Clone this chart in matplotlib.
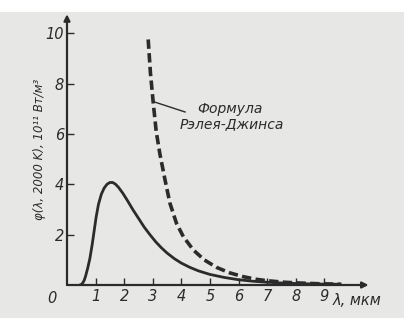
import matplotlib
matplotlib.use("Agg")
import matplotlib.pyplot as plt

# Planck curve, λ in μm, φ in 10^11 W/m^3
planck_lam = [0.45, 0.5, 0.55, 0.6, 0.65, 0.72, 0.8, 0.88, 0.95, 1.02, 1.1, 1.2, 1.3, 1.4, 1.5, 1.6,
              1.7, 1.8, 1.95, 2.1, 2.3, 2.5, 2.7, 2.9, 3.1, 3.3, 3.5, 3.75, 4.0, 4.3, 4.6, 5.0,
              5.5, 6.0, 6.5, 7.0, 7.5, 8.0, 8.5, 9.0, 9.5]
planck_val = [0.0, 0.02, 0.08, 0.18, 0.35, 0.65, 1.05, 1.6, 2.15, 2.7, 3.2, 3.6, 3.85, 4.0, 4.07, 4.07,
              4.0, 3.88, 3.65, 3.38, 3.0, 2.65, 2.3, 2.0, 1.72, 1.48, 1.27, 1.05, 0.87, 0.7, 0.56, 0.42,
              0.3, 0.21, 0.15, 0.11, 0.08, 0.06, 0.045, 0.035, 0.03]

# Rayleigh-Jeans curve
rj_lam = [2.84, 2.92, 3.02, 3.12, 3.25, 3.43, 3.6, 3.83, 4.07, 4.42, 4.8, 5.23, 5.7, 6.17, 6.6, 7.0, 7.6, 8.1, 8.8, 9.6]
rj_val = [9.75, 8.4, 7.2, 6.1, 5.2, 4.17, 3.25, 2.45, 1.92, 1.39, 1.0, 0.7, 0.48, 0.33, 0.23, 0.17, 0.11, 0.08, 0.05, 0.03]

x_ticks = [1, 2, 3, 4, 5, 6, 7, 8, 9]
y_ticks = [2, 4, 6, 8, 10]

ink = "#2b2b2b"
paper = "#e7e7e5"

fig = plt.figure(figsize=(4.07, 3.22), dpi=100, facecolor="white")
bg = plt.Rectangle((0, 0.012), 0.992, 0.95, transform=fig.transFigure,
                   facecolor=paper, edgecolor="none", zorder=-10)
fig.add_artist(bg)
ax = fig.add_axes([67/407, 37/322, 303/407, 272/322])
ax.set_zorder(1)
ax.set_facecolor("none")
ax.set_xlim(0, 10.6)
ax.set_ylim(0, 10.8)
for s in ax.spines.values():
    s.set_visible(False)

# axes with arrows
ax.annotate("", xy=(10.55, 0), xytext=(0, 0),
            arrowprops=dict(arrowstyle="-|>", color=ink, lw=1.6, mutation_scale=9, shrinkA=0, shrinkB=0))
ax.annotate("", xy=(0, 10.75), xytext=(0, 0),
            arrowprops=dict(arrowstyle="-|>", color=ink, lw=1.6, mutation_scale=9, shrinkA=0, shrinkB=0))

ax.set_xticks(x_ticks)
ax.set_yticks(y_ticks)
ax.tick_params(direction="in", length=5, width=1.0, color=ink, labelcolor=ink, labelsize=10.5)
ax.tick_params(axis="x", pad=3)
ax.tick_params(axis="y", pad=2)
for lab in ax.get_xticklabels() + ax.get_yticklabels():
    lab.set_fontstyle("italic")
ax.text(-0.35, -0.25, "0", fontsize=10.5, fontstyle="italic", color=ink, ha="right", va="top")

ax.plot(planck_lam, planck_val, color=ink, lw=2.0, solid_capstyle="round", solid_joinstyle="round")
ax.plot(rj_lam, rj_val, color=ink, lw=2.6, dashes=(2.6, 1.2), dash_capstyle="butt")

ax.text(9.3, -0.3, "λ, мкм", fontsize=10.5, fontstyle="italic", color=ink, ha="left", va="top")

ax.set_ylabel("φ(λ, 2000 K), 10¹¹ Вт/м³", fontsize=8.5, fontstyle="italic", color=ink)
ax.yaxis.set_label_coords(-0.07, 0.5)

ax.plot([3.08, 4.13], [7.26, 6.87], color=ink, lw=1.0)
ax.text(4.55, 7.0, "Формула", fontsize=10, fontstyle="italic", color=ink, ha="left", va="center")
ax.text(3.95, 6.4, "Рэлея-Джинса", fontsize=10, fontstyle="italic", color=ink, ha="left", va="center")

fig.savefig("out.png", dpi=100, facecolor="white")
